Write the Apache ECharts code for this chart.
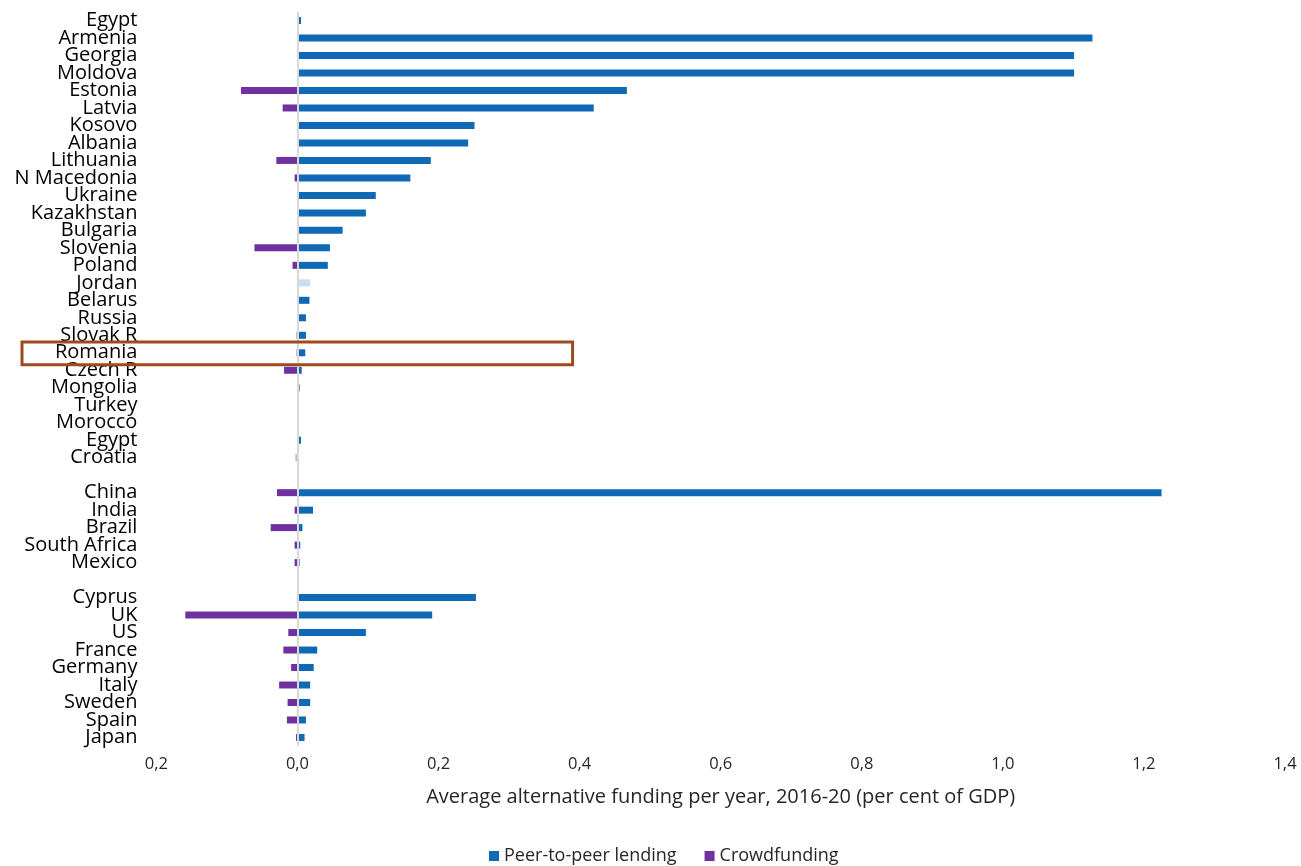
<!DOCTYPE html>
<html>
<head>
<meta charset="utf-8">
<script src="https://cdn.jsdelivr.net/npm/echarts@6/dist/echarts.min.js"></script>
<style>
html,body{margin:0;padding:0;background:#fff;}
#chart{width:1301px;height:866px;}
</style>
</head>
<body>
<div id="chart"></div>
<script>
// Categories, top to bottom ('' = spacer rows between groups)
var categories = ['Egypt','Armenia','Georgia','Moldova','Estonia','Latvia','Kosovo','Albania','Lithuania','N Macedonia',
  'Ukraine','Kazakhstan','Bulgaria','Slovenia','Poland','Jordan','Belarus','Russia','Slovak R','Romania',
  'Czech R','Mongolia','Turkey','Morocco','Egypt','Croatia','',
  'China','India','Brazil','South Africa','Mexico',' ',
  'Cyprus','UK','US','France','Germany','Italy','Sweden','Spain','Japan'];

// Peer-to-peer lending (% of GDP)
var peerToPeer = [0.005,1.127,1.101,1.101,0.467,0.420,0.251,0.242,0.189,0.160,
  0.111,0.097,0.064,0.046,0.043,0.018,0.017,0.012,0.012,0.011,
  0.006,0.003,0.002,0.001,0.005,null,null,
  1.225,0.022,0.007,0.004,0.003,null,
  0.253,0.191,0.097,0.028,0.023,0.018,0.018,0.012,0.010];

// Crowdfunding (% of GDP, plotted to the left of zero)
var crowdfunding = [null,null,null,null,-0.080,-0.021,null,null,-0.030,-0.004,
  null,null,null,-0.061,-0.007,null,null,null,-0.002,-0.002,
  -0.019,null,null,null,null,-0.003,null,
  -0.029,-0.004,-0.038,-0.004,-0.004,null,
  -0.001,-0.159,-0.013,-0.020,-0.009,-0.026,-0.014,-0.015,-0.002];

// Categories whose bars are shown in a lighter shade in the source
var p2pLightRows = ['Jordan','Turkey','Morocco'];
var cfLightRows = ['Slovak R','Romania','Croatia','Cyprus'];

var xTicks = [-0.2,0,0.2,0.4,0.6,0.8,1.0,1.2,1.4];
var highlightRow = 'Romania';

var BLUE = '#0F69B4', BLUE_LIGHT = '#C6DFF4';
var PURPLE = '#7030A0', PURPLE_LIGHT = '#C9ADDF';

function styled(values, lightRows, color, light) {
  return values.map(function (v, i) {
    if (v === null) return null;
    if (lightRows.indexOf(categories[i]) >= 0) {
      return { value: v, itemStyle: { color: light } };
    }
    return v;
  });
}

var FONT = 'Open Sans';
var chart = echarts.init(document.getElementById('chart'), null, { renderer: 'canvas' });
var option = {
  animation: false,
  textStyle: { fontFamily: FONT },
  grid: { left: 156.4, right: 16, top: 11.8, bottom: 119.8, containLabel: false },
  legend: {
    data: ['Peer-to-peer lending', 'Crowdfunding'],
    left: 484, top: 842,
    itemWidth: 10, itemHeight: 10, itemGap: 28,
    icon: 'rect',
    textStyle: { fontFamily: FONT, fontSize: 18, color: '#262626' }
  },
  xAxis: {
    type: 'value',
    min: xTicks[0], max: xTicks[xTicks.length - 1], interval: 0.2,
    axisLine: { show: false },
    axisTick: { show: false },
    splitLine: { show: false },
    axisLabel: {
      margin: 10, fontSize: 16.5, color: '#262626', fontFamily: FONT,
      formatter: function (v) { return Math.abs(v).toFixed(1).replace('.', ','); }
    },
    name: 'Average alternative funding per year, 2016-20 (per cent of GDP)',
    nameLocation: 'middle', nameGap: 41,
    nameTextStyle: { fontSize: 20, color: '#262626', fontFamily: FONT }
  },
  yAxis: {
    type: 'category',
    inverse: true,
    data: categories,
    axisLine: { show: false },
    axisTick: { show: false },
    splitLine: { show: false },
    axisLabel: { margin: 19, fontSize: 20, color: '#000', fontFamily: FONT, interval: 0 }
  },
  series: [
    {
      name: 'Peer-to-peer lending', type: 'bar', barWidth: 7, barGap: '-100%',
      itemStyle: { color: BLUE },
      data: styled(peerToPeer, p2pLightRows, BLUE, BLUE_LIGHT),
      z: 3,
      markLine: {
        silent: true, symbol: 'none', label: { show: false },
        lineStyle: { color: '#D9D9D9', width: 2, type: 'solid' },
        data: [{ xAxis: 0 }], z: 5
      }
    },
    {
      name: 'Crowdfunding', type: 'bar', barWidth: 7, barGap: '-100%',
      itemStyle: { color: PURPLE },
      data: styled(crowdfunding, cfLightRows, PURPLE, PURPLE_LIGHT),
      z: 3
    }
  ]
};
chart.setOption(option);

// Highlight box around the Romania row
var idx = categories.indexOf(highlightRow);
var c0 = chart.convertToPixel({ gridIndex: 0 }, [0.39, idx]);
var c1 = chart.convertToPixel({ gridIndex: 0 }, [0.39, idx + 1]);
var band = Math.abs(c1[1] - c0[1]);
var boxLeft = 22;
chart.setOption({
  graphic: [{
    type: 'rect', silent: true, z: 100,
    shape: { x: boxLeft, y: c0[1] - band * 0.62, width: c0[0] - boxLeft, height: band * 1.3 },
    style: { fill: 'none', stroke: '#9E4A1E', lineWidth: 3 }
  }]
});
</script>
</body>
</html>
